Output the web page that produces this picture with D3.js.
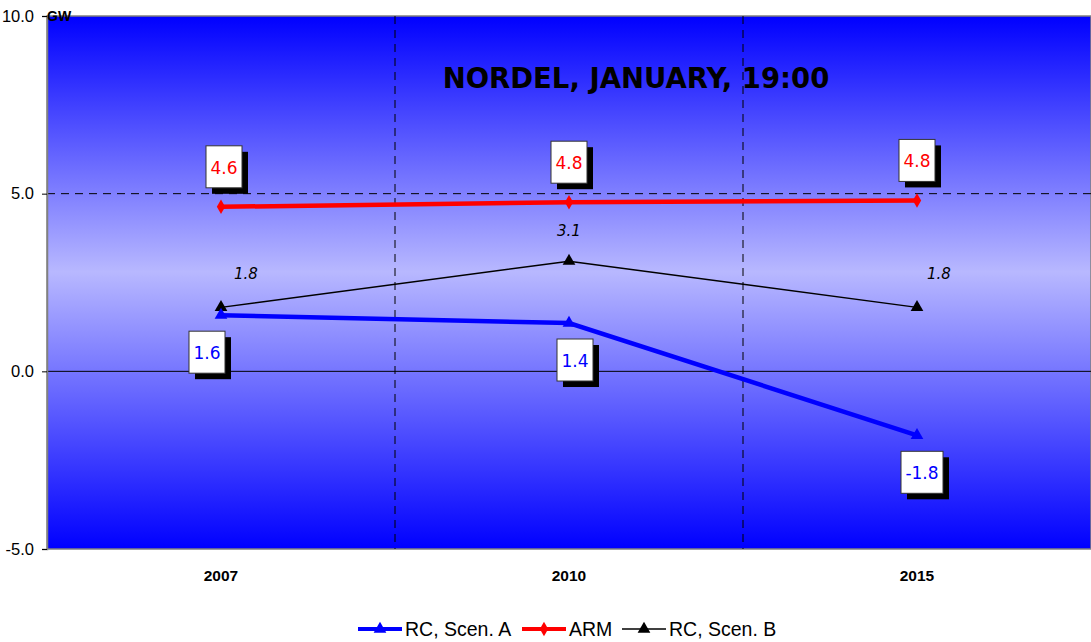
<!DOCTYPE html>
<html lang="en">
<head>
<meta charset="utf-8">
<script src="https://d3js.org/d3.v7.min.js"></script>
<style>
  * { margin: 0; padding: 0; }
  body { background: #fff; font-family: "Liberation Sans", Arial, sans-serif; }
</style>
</head>
<body>
<script>
// chart values
const years = ['2007', '2010', '2015'];
const scenA = [1.58, 1.36, -1.8];
const arm = [4.63, 4.76, 4.81];
const scenB = [1.8, 3.1, 1.8];
const yTicks = [-5, 0, 5, 10];
const seriesNames = ['RC, Scen. A', 'ARM', 'RC, Scen. B'];

const width = 1091, height = 642;
const margin = {top: 16, right: 0, bottom: 93, left: 47};

// d3.format gives a unicode minus, the original uses a hyphen
const fmt = v => d3.format('.1f')(v).replace('\u2212', '-');

const svg = d3.select('body').append('svg')
  .attr('width', width)
  .attr('height', height);

const x = d3.scaleBand()
  .domain(years)
  .range([margin.left, width - margin.right]);
const y = d3.scaleLinear()
  .domain([-5, 10])
  .range([height - margin.bottom, margin.top]);
const cx = d => x(d) + x.bandwidth() / 2;

// background gradient
const grad = svg.append('defs').append('linearGradient')
  .attr('id', 'bg').attr('x1', 0).attr('y1', 0).attr('x2', 0).attr('y2', 1);
grad.append('stop').attr('offset', '0%').attr('stop-color', '#0000ff');
grad.append('stop').attr('offset', '48%').attr('stop-color', '#b8b8ff');
grad.append('stop').attr('offset', '100%').attr('stop-color', '#0000ff');

svg.append('rect')
  .attr('x', margin.left).attr('y', margin.top)
  .attr('width', width - margin.left - margin.right)
  .attr('height', y(-5) - y(10))
  .attr('fill', 'url(#bg)')
  .attr('stroke', '#808080').attr('stroke-width', 1.5);

// grid
svg.append('g').selectAll('line')
  .data(years.slice(1))
  .enter().append('line')
  .attr('x1', d => x(d)).attr('x2', d => x(d))
  .attr('y1', y(10)).attr('y2', y(-5))
  .attr('stroke', '#000').attr('stroke-dasharray', '8,6');
svg.append('line')
  .attr('x1', margin.left).attr('x2', width)
  .attr('y1', y(5)).attr('y2', y(5))
  .attr('stroke', '#000').attr('stroke-dasharray', '8,6');
svg.append('line')
  .attr('x1', margin.left).attr('x2', width)
  .attr('y1', y(0)).attr('y2', y(0))
  .attr('stroke', '#000').attr('stroke-width', 1);

// y axis
const yAxis = svg.append('g')
  .attr('transform', `translate(${margin.left},0)`)
  .call(d3.axisLeft(y).tickValues(yTicks).tickFormat(fmt).tickSizeOuter(0).tickSize(5).tickPadding(8));
yAxis.select('.domain').attr('stroke', '#808080').attr('stroke-width', 1.5);
yAxis.selectAll('.tick line').attr('stroke', '#000');
yAxis.selectAll('.tick text')
  .attr('font-family', '"Liberation Sans", Arial, sans-serif')
  .attr('font-size', 16.5).attr('fill', '#000');

svg.append('text')
  .attr('x', margin.left).attr('y', margin.top + 5)
  .attr('font-size', 14).attr('font-weight', 'bold')
  .text('GW');

// x axis labels
svg.append('g').selectAll('text')
  .data(years)
  .enter().append('text')
  .attr('x', d => cx(d)).attr('y', 581)
  .attr('text-anchor', 'middle')
  .attr('font-size', 15.5).attr('font-weight', 'bold')
  .text(d => d);

// title
svg.append('text')
  .attr('x', 636).attr('y', 88)
  .attr('text-anchor', 'middle')
  .attr('font-family', '"DejaVu Sans", sans-serif')
  .attr('font-size', 27.5).attr('font-weight', 'bold')
  .text('NORDEL, JANUARY, 19:00');

// series lines
const line = d3.line().x(d => cx(d[0])).y(d => y(d[1]));
const pts = vals => years.map((yr, i) => [yr, vals[i]]);

svg.append('path').datum(pts(scenB))
  .attr('d', line).attr('fill', 'none')
  .attr('stroke', '#000').attr('stroke-width', 1.5);
svg.append('path').datum(pts(scenA))
  .attr('d', line).attr('fill', 'none')
  .attr('stroke', '#0000ff').attr('stroke-width', 4.5);
svg.append('path').datum(pts(arm))
  .attr('d', line).attr('fill', 'none')
  .attr('stroke', '#ff0000').attr('stroke-width', 4.5);

const tri = d3.symbol().type(d3.symbolTriangle).size(70);
const dia = d3.symbol().type(d3.symbolDiamond).size(60);

svg.append('g').selectAll('path')
  .data(pts(scenB)).enter().append('path')
  .attr('d', tri)
  .attr('transform', d => `translate(${cx(d[0])},${y(d[1])})`)
  .attr('fill', '#000');
svg.append('g').selectAll('path')
  .data(pts(scenA)).enter().append('path')
  .attr('d', tri)
  .attr('transform', d => `translate(${cx(d[0])},${y(d[1])})`)
  .attr('fill', '#0000ff');
svg.append('g').selectAll('path')
  .data(pts(arm)).enter().append('path')
  .attr('d', dia)
  .attr('transform', d => `translate(${cx(d[0])},${y(d[1])})`)
  .attr('fill', '#ff0000');

// boxed data labels
const boxW = 36, boxH = 42;
function boxLabels(vals, color, dxs, dy) {
  const g = svg.append('g').selectAll('g')
    .data(pts(vals)).enter().append('g')
    .attr('transform', (d, i) => `translate(${cx(d[0]) + dxs[i]},${y(d[1]) + dy})`);
  g.append('rect')
    .attr('x', d => -boxW / 2 - (d[1] < 0 ? 3 : 0) + 6).attr('y', -boxH / 2 + 6)
    .attr('width', d => boxW + (d[1] < 0 ? 6 : 0)).attr('height', boxH)
    .attr('fill', '#000');
  g.append('rect')
    .attr('x', d => -boxW / 2 - (d[1] < 0 ? 3 : 0)).attr('y', -boxH / 2)
    .attr('width', d => boxW + (d[1] < 0 ? 6 : 0)).attr('height', boxH)
    .attr('fill', '#fff').attr('stroke', '#333').attr('stroke-width', 1);
  g.append('text')
    .attr('text-anchor', 'middle').attr('y', 7)
    .attr('font-family', '"DejaVu Sans", sans-serif')
    .attr('font-size', 17).attr('fill', color)
    .text(d => fmt(d[1]));
}
boxLabels(arm, '#ff0000', [3, 0, 0], -40);
boxLabels(scenA, '#0000ff', [-14, 6, 5], 37);

// italic labels for scenario B
const bDx = [25, 0, 22];
const bDy = [-28, -25, -28];
svg.append('g').selectAll('text')
  .data(pts(scenB)).enter().append('text')
  .attr('x', (d, i) => cx(d[0]) + bDx[i])
  .attr('y', (d, i) => y(d[1]) + bDy[i])
  .attr('text-anchor', 'middle')
  .attr('font-family', '"DejaVu Sans", sans-serif')
  .attr('font-size', 15).attr('font-style', 'italic')
  .text(d => fmt(d[1]));

// legend
const legendItems = [
  {name: seriesNames[0], color: '#0000ff', w: 4, sym: tri, x: 358},
  {name: seriesNames[1], color: '#ff0000', w: 4, sym: dia, x: 522},
  {name: seriesNames[2], color: '#000', w: 1.5, sym: tri, x: 622}
];
const lg = svg.append('g').selectAll('g')
  .data(legendItems).enter().append('g')
  .attr('transform', d => `translate(${d.x},629)`);
lg.append('line')
  .attr('x1', 0).attr('x2', 44)
  .attr('stroke', d => d.color).attr('stroke-width', d => d.w);
lg.append('path')
  .attr('d', d => d.sym())
  .attr('transform', 'translate(22,0)')
  .attr('fill', d => d.color);
lg.append('text')
  .attr('x', 47).attr('y', 7)
  .attr('font-size', 19.5)
  .text(d => d.name);
</script>
</body>
</html>
